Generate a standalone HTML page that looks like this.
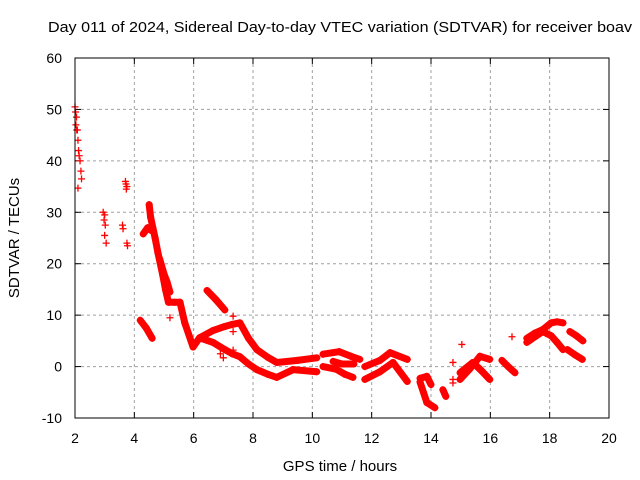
<!DOCTYPE html>
<html><head><meta charset="utf-8"><style>
html,body{margin:0;padding:0;background:#fff;}
svg{display:block;font-family:"Liberation Sans",sans-serif;}
</style></head><body>
<svg id="chart" width="640" height="480" viewBox="0 0 640 480" xmlns="http://www.w3.org/2000/svg">
<text x="340" y="32" font-size="15" text-anchor="middle" textLength="584" lengthAdjust="spacingAndGlyphs">Day 011 of 2024, Sidereal Day-to-day VTEC variation (SDTVAR) for receiver boav</text>
<text transform="translate(19,238) rotate(-90)" font-size="15" text-anchor="middle">SDTVAR / TECUs</text>
<text x="340" y="471" font-size="15" text-anchor="middle">GPS time / hours</text>
<g id="grid"></g>
<g id="ticks"></g>
<g id="marks"></g>
<rect x="75" y="58" width="534" height="360" fill="none" stroke="#000" stroke-width="1"/>
</svg>
<script>
const xTicks = [2,4,6,8,10,12,14,16,18,20];
const yTicks = [-10,0,10,20,30,40,50,60];
const tracks = [
  [[4.3,25.8],[4.45,27],[4.55,26.5]],
  [[4.5,31.5],[4.55,29],[4.7,25],[4.8,22],[4.95,18],[5.05,15],[5.15,12.5],[5.35,12.5],[5.54,12.5],[5.7,8.5],[5.98,3.8],[6.2,5.6],[6.65,7.0],[7.05,7.8],[7.3,8.2],[7.56,8.5],[7.85,5.5],[8.13,3.3],[8.5,1.8],[8.8,0.8],[9.5,1.2],[10.15,1.7]],
  [[4.85,21],[5.0,18],[5.1,16.5],[5.2,14.5]],
  [[4.2,9],[4.4,7.5],[4.6,5.5]],
  [[6.2,5.6],[6.65,4.7],[7.05,3.3],[7.3,2.5],[7.56,1.9],[7.85,0.5],[8.13,-0.6],[8.5,-1.5],[8.8,-2.1],[9.35,-0.6],[10.15,-1]],
  [[6.45,14.8],[6.75,13],[7.05,11]],
  [[10.36,2.4],[10.9,2.9],[11.3,2.0],[11.6,1.4]],
  [[10.36,0],[10.8,-0.5],[11.1,-1.5],[11.37,-2.1]],
  [[10.7,1.0],[11.0,0.5],[11.4,0.5]],
  [[11.77,0],[12.28,1.2],[12.62,2.7],[13.2,1.4]],
  [[11.77,-2.5],[12.28,-1],[12.72,0.8],[13.2,-2.9]],
  [[13.63,-2.3],[13.86,-1.9],[14.0,-3.5]],
  [[13.63,-3],[13.86,-7],[14.13,-8.0]],
  [[14.4,-4.5],[14.5,-5.8]],
  [[14.98,-2.5],[15.3,-0.5],[15.65,2.0],[15.98,1.4]],
  [[14.98,-1.2],[15.41,0.8],[15.7,-0.8],[15.98,-2.5]],
  [[16.39,1.2],[16.6,0],[16.83,-1.2]],
  [[17.23,5.5],[17.5,6.5],[17.77,7.2],[18.05,8.5],[18.25,8.7],[18.45,8.5]],
  [[17.23,4.7],[17.5,5.8],[17.77,6.8],[18.05,6.0],[18.25,4.7],[18.45,3.3]],
  [[18.68,6.8],[18.9,6.0],[19.12,5.0]],
  [[18.6,3.3],[18.85,2.3],[19.1,1.4]]
];
const scatterX = [2.0,2.02,2.05,2.03,2.06,2.08,2.1,2.12,2.14,2.17,2.2,2.22,2.1,
  2.95,3.0,2.98,3.02,3.0,3.05,3.6,3.62,3.7,3.72,3.75,3.73,3.75,3.77,
  5.2,7.33,7.33,7.33,7.0,6.9,14.74,14.74,14.74,15.04,16.73];
const scatterY = [50.5,49.5,48.5,47,46,46,44,42,41,40,38,36.5,34.7,
  30,29.5,28.5,27.5,25.5,24,27.5,26.8,36,35.5,35,34.5,24,23.5,
  9.5,9.8,6.8,3.2,1.7,2.5,0.8,-2.5,-3.2,4.3,5.8];

const X = h => 75 + (h - 2) * 534 / 18;
const Y = v => 418 - (v + 10) * 360 / 70;
const NS = "http://www.w3.org/2000/svg";
const grid = document.getElementById('grid');
const ticks = document.getElementById('ticks');
const marks = document.getElementById('marks');
function mk(tag, attrs, parent){const e=document.createElementNS(NS,tag);for(const k in attrs)e.setAttribute(k,attrs[k]);parent.appendChild(e);return e;}

xTicks.forEach(t => {
  const x = X(t);
  if (t > 2 && t < 20) {
    const g = mk('line',{x1:x,x2:x,y1:58,y2:418,stroke:'#a0a0a0','stroke-dasharray':'3,3','stroke-width':1},grid);
    
    
  }
  mk('line',{x1:x,x2:x,y1:418,y2:412,stroke:'#000'},ticks);
  mk('line',{x1:x,x2:x,y1:58,y2:64,stroke:'#000'},ticks);
  const l = mk('text',{x:x,y:443,'font-size':14,'text-anchor':'middle'},ticks);
  l.textContent = t;
  
  
});
yTicks.forEach(t => {
  const y = Y(t);
  if (t > -10 && t < 60) {
    const g = mk('line',{x1:75,x2:609,y1:y,y2:y,stroke:'#a0a0a0','stroke-dasharray':'3,3','stroke-width':1},grid);
    
    
  }
  mk('line',{x1:75,x2:81,y1:y,y2:y,stroke:'#000'},ticks);
  mk('line',{x1:603,x2:609,y1:y,y2:y,stroke:'#000'},ticks);
  const l = mk('text',{x:62,y:y+5,'font-size':14,'text-anchor':'end'},ticks);
  l.textContent = t;
  
  
});
function plus(h,v){
  const x=X(h), y=Y(v);
  const p = mk('path',{d:`M${x-3.5},${y}H${x+3.5}M${x},${y-3.5}V${y+3.5}`,stroke:'#f00','stroke-width':1.3,fill:'none'},marks);
  
  
}
tracks.forEach(tr => {
  for (let i = 0; i < tr.length - 1; i++) {
    const s = mk('line',{x1:X(tr[i][0]),y1:Y(tr[i][1]),x2:X(tr[i+1][0]),y2:Y(tr[i+1][1]),stroke:'#f00','stroke-width':7,'stroke-linecap':'round'},marks);
    
    
  }
  tr.forEach(p => plus(p[0],p[1]));
});
scatterX.forEach((h,i) => plus(h, scatterY[i]));
</script>
</body></html>
